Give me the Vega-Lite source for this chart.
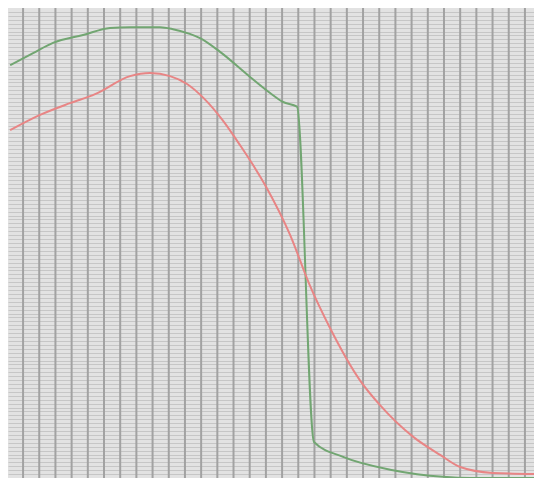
{
  "$schema": "https://vega.github.io/schema/vega-lite/v6.json",
  "width": 526,
  "height": 470,
  "autosize": "none",
  "padding": {"left": 8, "top": 8, "right": 0, "bottom": 0},
  "background": "#ffffff",
  "config": {
    "view": {"fill": "#e2e2e2", "stroke": null}
  },
  "datasets": {
    "vgrid": [
      {"x": 0}, {"x": 1}, {"x": 2}, {"x": 3}, {"x": 4}, {"x": 5}, {"x": 6}, {"x": 7},
      {"x": 8}, {"x": 9}, {"x": 10}, {"x": 11}, {"x": 12}, {"x": 13}, {"x": 14}, {"x": 15},
      {"x": 16}, {"x": 17}, {"x": 18}, {"x": 19}, {"x": 20}, {"x": 21}, {"x": 22}, {"x": 23},
      {"x": 24}, {"x": 25}, {"x": 26}, {"x": 27}, {"x": 28}, {"x": 29}, {"x": 30}, {"x": 31}
    ],
    "green": [
      {"x": -0.8, "y": 105.4}, {"x": 0.62, "y": 108.5}, {"x": 1.85, "y": 111.1}, {"x": 3.71, "y": 113.1},
      {"x": 5.37, "y": 114.9}, {"x": 6.61, "y": 115.1}, {"x": 8.46, "y": 115.1}, {"x": 9.26, "y": 114.6},
      {"x": 10.3, "y": 113.4}, {"x": 10.93, "y": 112.3}, {"x": 12.17, "y": 108.8}, {"x": 14.02, "y": 102.4},
      {"x": 15.26, "y": 98.3}, {"x": 16.06, "y": 96.0}, {"x": 16.92, "y": 94.8}, {"x": 17.97, "y": 9.2},
      {"x": 19.77, "y": 5.4}, {"x": 22.85, "y": 2.0}, {"x": 25.94, "y": 0.3}, {"x": 27.6, "y": 0},
      {"x": 31.56, "y": 0}
    ],
    "red": [
      {"x": -0.8, "y": 88.8}, {"x": 1.05, "y": 92.7}, {"x": 2.9, "y": 95.7}, {"x": 4.45, "y": 98.0},
      {"x": 6.61, "y": 102.6}, {"x": 7.84, "y": 103.4}, {"x": 9.08, "y": 102.6}, {"x": 10.13, "y": 100.6},
      {"x": 11.2, "y": 96.8}, {"x": 12.3, "y": 91.5}, {"x": 13.4, "y": 85.0}, {"x": 14.95, "y": 74.8},
      {"x": 16.5, "y": 62.0}, {"x": 17.7, "y": 49.3}, {"x": 18.96, "y": 38.3}, {"x": 20.8, "y": 25.0},
      {"x": 22.05, "y": 18.6}, {"x": 24.1, "y": 10.5}, {"x": 25.76, "y": 5.9}, {"x": 27.0, "y": 2.8},
      {"x": 29.0, "y": 1.3}, {"x": 31.56, "y": 1.0}
    ]
  },
  "layer": [
    {
      "data": {"name": "vgrid"},
      "mark": {"type": "rule", "color": "#a2a2a2", "strokeWidth": 2},
      "encoding": {
        "x": {
          "field": "x", "type": "quantitative",
          "scale": {"domain": [-0.93, 31.56], "nice": false, "zero": false},
          "axis": null
        }
      }
    },
    {
      "data": {"name": "green"},
      "mark": {"type": "line", "color": "#72a672", "strokeWidth": 2, "clip": true, "interpolate": "monotone"},
      "encoding": {
        "x": {"field": "x", "type": "quantitative"},
        "y": {
          "field": "y", "type": "quantitative",
          "scale": {"domain": [0, 120], "nice": false},
          "axis": {
            "tickCount": 120,
            "values": [1,2,3,4,5,6,7,8,9,10,11,12,13,14,15,16,17,18,19,20,21,22,23,24,25,26,27,28,29,30,31,32,33,34,35,36,37,38,39,40,41,42,43,44,45,46,47,48,49,50,51,52,53,54,55,56,57,58,59,60,61,62,63,64,65,66,67,68,69,70,71,72,73,74,75,76,77,78,79,80,81,82,83,84,85,86,87,88,89,90,91,92,93,94,95,96,97,98,99,100,101,102,103,104,105,106,107,108,109,110,111,112,113,114,115,116,117,118,119],
            "grid": true, "gridColor": "#c6c6c6", "gridWidth": 1, "gridOpacity": 1,
            "labels": false, "ticks": false, "domain": false, "title": null
          }
        }
      }
    },
    {
      "data": {"name": "red"},
      "mark": {"type": "line", "color": "#e88585", "strokeWidth": 2, "clip": true, "interpolate": "monotone"},
      "encoding": {
        "x": {"field": "x", "type": "quantitative"},
        "y": {"field": "y", "type": "quantitative"}
      }
    }
  ]
}
